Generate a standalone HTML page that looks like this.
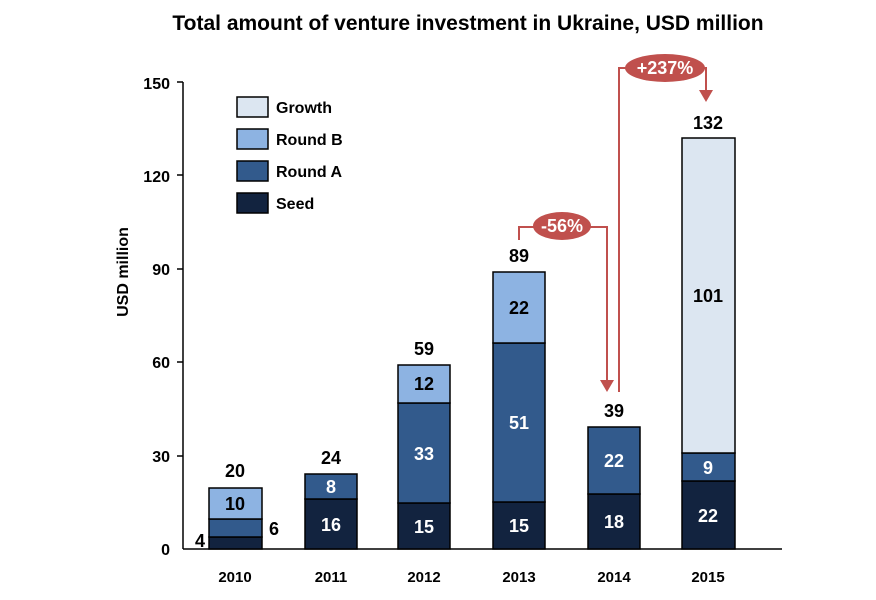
<!DOCTYPE html><html><head><style>body{margin:0;background:#fff}</style></head><body>
<svg width="876" height="595" xmlns="http://www.w3.org/2000/svg" font-family="Liberation Sans, Arial, sans-serif" font-weight="bold">
<rect width="876" height="595" fill="#fff"/>
<text x="468" y="30" font-size="21" text-anchor="middle">Total amount of venture investment in Ukraine, USD million</text>
<g font-size="16" text-anchor="end">
<text x="170" y="555">0</text><text x="170" y="462">30</text><text x="170" y="368">60</text><text x="170" y="275">90</text><text x="170" y="182">120</text><text x="170" y="89">150</text></g>
<g stroke="#000" stroke-width="1.5">
<line x1="183" y1="82" x2="183" y2="549"/><line x1="183" y1="549" x2="782" y2="549"/>
<line x1="177" y1="82" x2="183" y2="82"/><line x1="177" y1="175" x2="183" y2="175"/><line x1="177" y1="269" x2="183" y2="269"/><line x1="177" y1="362" x2="183" y2="362"/><line x1="177" y1="456" x2="183" y2="456"/></g>
<text transform="translate(128,272) rotate(-90)" font-size="16" text-anchor="middle">USD million</text>
<g stroke="#000" stroke-width="1.5">
<rect x="209" y="537" width="53" height="12" fill="#12233f"/><rect x="209" y="519" width="53" height="18" fill="#325a8c"/><rect x="209" y="488" width="53" height="31" fill="#8db3e2"/>
<rect x="305" y="499" width="52" height="50" fill="#12233f"/><rect x="305" y="474" width="52" height="25" fill="#325a8c"/>
<rect x="398" y="503" width="52" height="46" fill="#12233f"/><rect x="398" y="403" width="52" height="100" fill="#325a8c"/><rect x="398" y="365" width="52" height="38" fill="#8db3e2"/>
<rect x="493" y="502" width="52" height="47" fill="#12233f"/><rect x="493" y="343" width="52" height="159" fill="#325a8c"/><rect x="493" y="272" width="52" height="71" fill="#8db3e2"/>
<rect x="588" y="494" width="52" height="55" fill="#12233f"/><rect x="588" y="427" width="52" height="67" fill="#325a8c"/>
<rect x="682" y="481" width="53" height="68" fill="#12233f"/><rect x="682" y="453" width="53" height="28" fill="#325a8c"/><rect x="682" y="138" width="53" height="315" fill="#dce6f1"/>
<rect x="237" y="97" width="31" height="20" fill="#dce6f1"/><rect x="237" y="129" width="31" height="20" fill="#8db3e2"/><rect x="237" y="161" width="31" height="20" fill="#325a8c"/><rect x="237" y="193" width="31" height="20" fill="#12233f"/></g>
<g font-size="16"><text x="276" y="113">Growth</text><text x="276" y="145">Round B</text><text x="276" y="177">Round A</text><text x="276" y="209">Seed</text></g>
<g font-size="18" text-anchor="middle">
<text x="235" y="477">20</text><text x="331" y="464">24</text><text x="424" y="355">59</text><text x="519" y="262">89</text><text x="614" y="417">39</text><text x="708" y="129">132</text>
<text x="235" y="510">10</text><text x="200" y="547">4</text><text x="274" y="535">6</text>
</g>
<g font-size="18" text-anchor="middle" fill="#fff">
<text x="331" y="493">8</text><text x="331" y="531">16</text>
<text x="424" y="533">15</text><text x="424" y="460">33</text>
<text x="519" y="532">15</text><text x="519" y="429">51</text>
<text x="614" y="528">18</text><text x="614" y="467">22</text>
<text x="708" y="522">22</text><text x="708" y="474">9</text></g>
<g font-size="18" text-anchor="middle"><text x="424" y="390">12</text><text x="519" y="314">22</text><text x="708" y="302">101</text></g>
<g stroke="#c0504d" stroke-width="2" fill="none">
<polyline points="519,240 519,227 607,227 607,382"/>
<polyline points="619,392 619,68 706,68 706,92"/></g>
<g fill="#c0504d">
<polygon points="600,380 614,380 607,392"/><polygon points="699,90 713,90 706,102"/>
<ellipse cx="562" cy="226" rx="29" ry="14"/><ellipse cx="665" cy="68" rx="40" ry="14"/></g>
<g fill="#fff" font-size="18" text-anchor="middle"><text x="562" y="232">-56%</text><text x="665" y="74">+237%</text></g>
<g font-size="15" text-anchor="middle"><text x="235" y="582">2010</text><text x="331" y="582">2011</text><text x="424" y="582">2012</text><text x="519" y="582">2013</text><text x="614" y="582">2014</text><text x="708" y="582">2015</text></g>
</svg></body></html>
